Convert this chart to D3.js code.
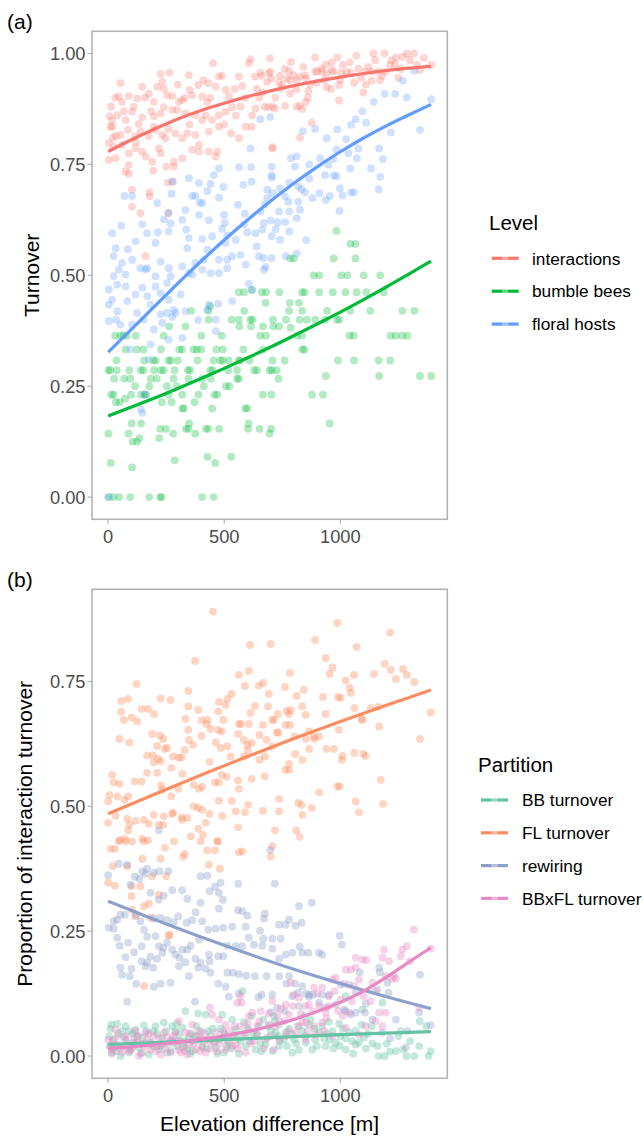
<!DOCTYPE html>
<html>
<head>
<meta charset="utf-8">
<script src="https://cdn.jsdelivr.net/npm/d3@7"></script>
<style>
  body { margin: 0; background: #fff; }
</style>
</head>
<body>
<div id="chart"></div>
<script>
// ---- panel (a): turnover vs elevation difference, [elevation m, turnover] ----
const interactionsPts = [
  [53,.933],[46,.903],[60,.891],[89,.904],[125,.899],[147,.925],[175,.909],[197,.891],[211,.925],[226,.954],[233,.936],[264,.957],[254,.906],[276,.904],[305,.891],[319,.895],[348,.951],[351,.918],[362,.906],[388,.929],[405,.903],[431,.933],[451,.978],[463,.925],[477,.948],[506,.918],[520,.903],[563,.948],[578,.927],[606,.978],[613,.987],[632,.948],[656,.957],[693,.955],[685,.936],[664,.912],
  [6,.859],[17,.835],[17,.85],[39,.861],[75,.85],[103,.869],[132,.841],[147,.856],[197,.858],[197,.835],[226,.865],[240,.879],[276,.873],[297,.873],[333,.865],[376,.861],[405,.85],[448,.85],[477,.861],[506,.869],[534,.879],[570,.88],[635,.876],[674,.88],[690,.879],[427,.891],
  [10,.835],[32,.814],[53,.816],[86,.828],[115,.813],[139,.824],[175,.814],[204,.828],[233,.816],[247,.809],[290,.82],[319,.809],[341,.82],[376,.816],[391,.794],[434,.824],[477,.835],[529,.82],[563,.809],[592,.835],[618,.835],
  [3,.798],[24,.79],[60,.794],[89,.775],[118,.786],[147,.779],[161,.768],[190,.756],[218,.786],[226,.775],[283,.756],[283,.745],[319,.764],[362,.783],[391,.779],[434,.779],[463,.768],[470,.779],
  [3,.76],[32,.764],[89,.749],[75,.734],[89,.729],[194,.736],[250,.745],[257,.709],[279,.711],[103,.693],[103,.655],[139,.64],[178,.687],[178,.678],[261,.64],[161,.543],[707,.786],
  [12,.88],[30,.9],[68,.87],[110,.88],[160,.9],[185,.87],[240,.92],[300,.93],[330,.9],[410,.94],[440,.9],[490,.95],[545,.92],[590,.9],[640,.92],[660,.95],[20,.81],[120,.8],[260,.83],[350,.84],[420,.86],[500,.84],[550,.86],[620,.86],[650,.9],
  [697,.989],[787,.981],[891,.991],[1069,.995],[1142,1],[1190,1],[1240,.991],[1269,.993],[1287,1],[1318,1],[987,.991],[963,.98],[938,.975],[920,.966],[963,.963],[761,.965],[769,.944],[797,.951],[826,.948],[848,.951],[891,.959],[920,.959],[941,.954],[970,.959],[1003,.957],[1027,.959],[1046,.957],[1078,.966],[1106,.959],[1135,.959],[1164,.959],[1193,.959],[1214,.974],[1236,.976],[1343,.963],[1391,.974],[1171,.94],[1135,.939],[1060,.934],[994,.929],[941,.924],[899,.934],[852,.944],[812,.94],[783,.94],[736,.934],[697,.959],[862,.915],[783,.91],[744,.921],[704,.944],[1099,.912],[994,.894],[852,.891],[762,.882],[826,.882],[836,.875],[718,.876],[708,.88],[812,.88],[877,.844],[826,.81],[707,.789],
  [720,.9],[750,.93],[780,.96],[810,.92],[840,.97],[870,.93],[900,.96],[930,.94],[960,.92],[1010,.975],[1040,.98],[1090,.945],[1120,.97],[1150,.985],[1180,.95],[1220,.985],[1260,.965],[1300,.985],[1330,.975],[1360,.99],[740,.95],[860,.9],[1000,.94],[1110,.93],[1250,.945]
];

const bumbleBeesPts = [
  [0,0],[23,0],[47,0],[95,0],[177,0],[224,0],[230,0],[405,0],[454,0],
  [11,.077],[103,.067],[287,.083],[428,.091],[461,.077],[530,.091],
  [1,.143],[88,.143],[105,.125],[124,.125],[135,.133],[102,.166],[142,.166],[220,.133],[224,.154],[249,.154],[280,.143],[335,.154],[346,.154],[349,.166],[375,.143],[421,.154],[432,.154],[478,.154],[602,.154],[605,.166],[652,.154],[695,.143],[702,.154],[954,.166],
  [590,.2],[600,.2],[448,.2],
  [33,.214],[50,.214],[73,.222],[13,.231],[24,.231],[99,.231],[141,.231],[157,.231],[164,.231],[231,.214],[260,.231],[274,.214],[320,.2],[325,.2],[319,.231],[372,.214],[389,.231],[458,.231],[470,.231],[667,.231],[703,.231],[878,.231],[925,.231],
  [116,.25],[177,.25],[253,.25],[296,.25],[412,.25],[507,.25],[522,.25],
  [26,.267],[69,.267],[95,.267],[184,.267],[210,.267],[282,.267],[346,.267],[405,.267],[442,.267],[555,.267],[563,.267],[734,.267],[937,.273],[1167,.273],[1343,.273],[1391,.273],
  [1,.286],[9,.286],[37,.286],[91,.286],[141,.286],[152,.286],[198,.286],[227,.286],[239,.286],[286,.286],[343,.286],[353,.286],[440,.286],[450,.286],[517,.286],[555,.286],[629,.286],[641,.286],[695,.286],[705,.286],[726,.286],
  [36,.308],[155,.308],[195,.308],[205,.308],[260,.308],[270,.308],[300,.308],[385,.308],[454,.308],[483,.308],[493,.308],[519,.308],[562,.308],[569,.308],[609,.308],[708,.308],[760,.308],[990,.308],[1059,.308],[1165,.308],[1214,.308],
  [75,.333],[124,.333],[152,.333],[228,.333],[306,.333],[318,.333],[368,.333],[382,.333],[401,.333],[466,.333],[494,.333],[582,.333],[667,.333],[836,.333],[845,.333],
  [30,.364],[52,.364],[66,.364],[80,.364],[119,.364],[239,.364],[401,.364],[489,.364],[655,.364],[680,.364],[813,.364],[835,.364],[1039,.364],[1057,.364],[1216,.364],[1238,.364],[1266,.364],[1289,.364],
  [263,.385],[333,.385],[565,.385],[615,.385],[667,.385],[711,.385],[736,.385],[786,.382],
  [432,.4],[532,.4],[563,.4],[612,.4],[622,.4],[710,.4],[766,.4],[825,.4],[856,.4],[892,.4],[935,.4],[986,.4],[996,.4],
  [358,.42],[432,.42],[586,.42],[779,.42],[836,.42],[943,.42],[1043,.42],[1129,.42],[1267,.42],[1319,.42],
  [678,.438],[782,.438],[822,.438],[440,.43],
  [562,.462],[586,.462],[662,.462],[680,.462],[737,.462],[835,.462],[846,.462],[909,.462],[967,.462],[1022,.462],[1070,.462],[1112,.462],[1187,.462],[619,.467],
  [885,.5],[909,.5],[1004,.5],[1030,.5],[1101,.5],[1172,.5],
  [784,.538],[799,.538],[971,.538],[1065,.538],
  [1043,.571],[1065,.571],[983,.6]
];

const floralHostsPts = [
  [613,.786],[563,.744],[616,.744],[477,.741],[455,.726],[348,.719],[441,.706],[496,.699],[582,.704],[618,.711],[391,.708],[276,.711],[362,.679],[376,.679],[405,.663],[477,.675],[427,.69],[685,.693],[685,.674],[674,.66],[70,.679],[103,.679],[211,.663],[273,.684],[394,.664],[259,.641],[240,.626],[269,.617],[319,.625],[333,.647],[499,.636],[589,.639],[559,.659],[657,.644],[664,.603],[147,.615],[585,.615],[391,.636],[434,.624],[17,.595],[57,.612],[168,.595],[214,.597],[261,.599],[336,.603],[348,.584],[405,.582],[448,.588],[513,.59],[491,.605],[503,.618],[549,.58],[599,.597],[635,.595],[670,.618],[700,.624],[32,.561],[85,.559],[118,.576],[204,.573],[341,.561],[427,.558],[506,.573],[534,.543],[570,.546],[639,.565],[670,.539],[24,.543],[60,.528],[103,.535],[139,.516],[168,.516],[226,.531],[261,.516],[319,.52],[376,.528],[412,.535],[477,.535],[513,.535],[513,.516],[592,.524],[649,.543],[678,.519],[24,.498],[46,.513],[75,.502],[161,.513],[204,.498],[269,.498],[362,.502],[405,.513],[441,.505],[671,.513],
  [348,.505],[477,.505],[3,.468],[39,.479],[75,.475],[147,.472],[204,.475],[254,.483],[3,.434],[17,.445],[39,.419],[82,.442],[118,.457],[168,.453],[182,.434],[226,.46],[261,.445],[312,.457],[290,.415],[3,.397],[34,.4],[53,.389],[103,.389],[125,.415],[154,.4],[197,.378],[233,.393],[254,.415],[283,.422],[226,.412],[319,.359],[261,.355],[182,.344],[96,.333],[434,.434],[474,.436],[427,.423],[534,.442],[606,.481],[463,.4],[463,.374],[388,.399],[276,.406],[333,.419],[147,.19],[175,.31],[157,.232],[141,.198],[5,0],[620,.467],
  [655,.852],[698,.857],[705,.72],
  [1391,.897],[1343,.828],[1318,.961],[1269,.939],[1286,.901],[1236,.909],[1191,.909],[1217,.822],[1144,.891],[1167,.786],[1183,.762],[1132,.741],[1172,.722],[1165,.694],[1095,.87],[1111,.844],[1066,.852],[1046,.839],[1078,.786],[987,.829],[891,.83],[838,.825],[941,.809],[1025,.807],[1034,.775],[984,.783],[970,.762],[913,.764],[948,.749],[866,.75],[812,.768],[787,.764],[805,.745],[704,.745],[704,.725],[1071,.764],[1042,.741],[984,.723],[972,.725],[934,.726],[866,.718],[998,.696],[1009,.68],[1059,.687],[1046,.687],[955,.679],[910,.685],[880,.674],[848,.687],[819,.7],[780,.709],[740,.696],[762,.678],[708,.685],[776,.666],[780,.644],[736,.644],[819,.666],[833,.694],[937,.67],[996,.645],[730,.619],[762,.62],[721,.604],[826,.648],[812,.629],[780,.599],[704,.588],[741,.58],[853,.579],[812,.549],[765,.543],[704,.539]
];

// fitted curves
const interactionsFit = [[0,.779],[100,.806],[200,.83],[300,.853],[400,.872],[500,.888],[600,.903],[700,.916],[800,.928],[900,.938],[1000,.947],[1100,.955],[1200,.962],[1300,.967],[1390,.971]];
const bumbleBeesFit = [[0,.183],[100,.203],[200,.223],[300,.245],[400,.267],[500,.29],[600,.314],[700,.338],[800,.364],[900,.39],[1000,.417],[1100,.445],[1200,.474],[1300,.504],[1390,.532]];
const floralHostsFit = [[0,.327],[100,.378],[200,.43],[300,.482],[400,.532],[500,.58],[600,.625],[700,.668],[800,.708],[900,.745],[1000,.779],[1100,.81],[1200,.838],[1300,.863],[1390,.885]];

// ---- panel (b): proportion of interaction turnover ----
const bbTurnoverPts = [
  [14,.063],[10,.055],[39,.065],[75,.06],[118,.053],[154,.062],[204,.06],[240,.067],[276,.06],[319,.057],[333,.09],[388,.085],[420,.083],[431,.05],[491,.083],[534,.073],[578,.13],[585,.068],[618,.08],[649,.06],[668,.073],[714,.08],[736,.063],[764,.047],[800,.033],[836,.05],[865,.063],[891,.033],[908,.047],[937,.02],[954,.033],[980,.027],[997,.021],[1023,.013],[1066,.023],[1080,.027],[1102,.037],[1135,.06],[1164,0],[1190,0],[1214,.009],[1239,.01],[1270,.013],[1285,0],[1318,0],[1342,.07],[1389,.01],[1023,.035],[1037,.048],[994,.065],[951,.068],[1066,.051],[1092,.063],[1138,.025],[1181,.107],[1095,.093],[1023,.12],[966,.05],[922,.06],[879,.013],[822,.012],[851,.027],[793,.007],[736,.02],[707,.01],[678,.023],[635,.013],[592,.02],[563,.005],[520,.027],[499,.007],[463,.017],[405,.017],[362,.01],[326,.017],[297,.02],[254,.007],[218,.013],[175,.003],[132,.017],[89,.007],[53,0],[17,.007],[6,.02],[24,.033],[68,.037],[111,.027],[147,.037],[182,.027],[233,.037],[276,.033],[305,.043],[348,.037],[391,.033],[441,.04],[477,.033],[513,.04],[549,.053],[592,.04],[642,.043],[685,.037],[721,.047],[757,.033],[793,.043],[822,.06],[872,.073],[718,.07],
  [30,.02],[45,.045],[90,.05],[100,.015],[125,.04],[165,.05],[190,.02],[210,.045],[260,.025],[290,.05],[310,.03],[340,.015],[360,.045],[380,.06],[410,.03],[450,.055],[470,.005],[500,.045],[530,.015],[560,.035],[610,.03],[660,.01],[700,.05],[740,.03],[780,.055],[850,.04],[900,.02],[940,.045],[1000,.04],[1050,.03],[1120,.045],[1160,.02],[1250,.04],[1300,.03],[1370,.06],[1380,0],
  [5,.04],[35,.01],[60,.05],[85,.025],[105,.045],[140,.005],[160,.025],[195,.05],[225,.02],[250,.05],[270,.01],[295,.065],[330,.03],[355,.005],[375,.04],[400,.05],[425,.015],[455,.03],[485,.055],[510,.02],[540,.04],[570,.03],[600,.055],[625,.045],[655,.025],[690,.06],[730,.04],[770,.02],[810,.025],[845,.08],[890,.055],[930,.035],[970,.015],[1010,.055],[1055,.005],[1110,.015],[1200,.025],[1260,.05],[1340,.02]
];

const flTurnoverPts = [
  [451,.89],[987,.867],[1214,.848],[611,.823],[700,.825],[891,.833],[1070,.819],[374,.791],[937,.797],[966,.778],[954,.765],[1191,.785],[1217,.773],[1270,.775],[1286,.763],[1318,.749],[1239,.755],[1145,.765],[1059,.763],[1023,.752],[1040,.737],[1045,.727],[563,.763],[606,.771],[589,.741],[649,.742],[668,.747],[692,.725],[761,.739],[783,.767],[842,.733],[811,.721],[122,.745],[57,.711],[86,.715],[226,.716],[269,.713],[345,.731],[388,.693],[477,.709],[513,.715],[532,.725],[506,.703],[474,.69],[496,.673],[613,.687],[632,.701],[688,.7],[714,.673],[779,.685],[786,.693],[836,.7],[851,.683],[925,.719],[990,.719],[1001,.717],[1060,.697],[1131,.697],[1164,.699],[937,.685],[1092,.675],[1389,.688],
  [55,.689],[68,.673],[101,.678],[125,.67],[144,.695],[172,.695],[197,.685],[345,.7],[427,.673],[333,.675],[402,.672],[424,.665],[441,.655],[474,.653],[563,.665],[573,.665],[606,.665],[667,.663],[707,.673],[731,.685],[764,.663],[783,.663],[726,.648],[769,.691],[865,.65],[889,.635],[908,.64],[994,.653],[1095,.673],[1167,.66],[1343,.635],
  [49,.635],[92,.628],[190,.645],[223,.642],[237,.635],[211,.621],[254,.617],[244,.615],[345,.653],[366,.623],[348,.633],[402,.641],[463,.628],[489,.65],[513,.62],[484,.617],[560,.645],[585,.633],[599,.623],[618,.627],[652,.643],[682,.633],[707,.62],[733,.648],[803,.64],[851,.635],[865,.615],[885,.64],[940,.615],[972,.615],
  [168,.602],[193,.602],[216,.595],[280,.6],[305,.598],[316,.598],[330,.613],[272,.577],[319,.565],[211,.567],[168,.567],[226,.59],[197,.588],[437,.589],[489,.563],[510,.559],[527,.6],[585,.6],[602,.612],[652,.593],[675,.6],[674,.56],[763,.573],[779,.573],[779,.585],[836,.593],[805,.605],[1006,.593],[1009,.601],[1060,.607],[1099,.605],[1109,.601],[1174,.553],[987,.54],[997,.54],[908,.528],
  [17,.563],[24,.548],[49,.545],[6,.523],[39,.52],[70,.513],[86,.52],[115,.55],[144,.55],[0,.51],[0,.467],[32,.481],[82,.475],[118,.471],[154,.473],[197,.483],[240,.48],[276,.485],[316,.478],[341,.477],[228,.542],[233,.533],[272,.52],[302,.535],[369,.543],[391,.535],[405,.539],[369,.5],[388,.497],[405,.493],[437,.485],[460,.548],[477,.548],[477,.511],[532,.511],[559,.552],[563,.535],[618,.555],[603,.503],[549,.49],[589,.488],[667,.491],[736,.515],[736,.49],[819,.507],[833,.503],[836,.483],[877,.497],[1066,.51],[1080,.488],[1184,.505],
  [175,.465],[237,.463],[218,.463],[280,.487],[319,.473],[388,.455],[408,.443],[420,.467],[491,.481],[560,.458],[718,.452],[810,.452],[825,.439],[86,.452],[92,.463],[50,.433],[72,.435],[103,.43],[147,.435],[172,.432],[356,.44],[398,.43],[470,.43],[707,.42],
  [10,.415],[29,.415],[46,.43],[75,.43],[154,.43],[244,.417],[283,.43],[330,.405],[322,.399],[427,.412],[460,.412],[472,.43],[563,.408],[578,.41],[700,.4],[20,.38],[147,.395],[226,.395],[434,.383],[481,.375],[82,.38],[190,.36],[250,.36],[0,.347],[29,.341],[101,.32],[139,.34],[101,.34],[175,.305],[154,.3],[103,.293],[218,.323],[266,.243],[155,.14],[118,.28],[182,.277],[260,.241]
];

const rewiringPts = [
  [46,.385],[0,.362],[82,.383],[115,.359],[147,.37],[168,.375],[197,.367],[221,.37],[259,.37],[161,.365],[96,.343],[135,.355],[182,.327],[218,.313],[240,.321],[276,.332],[319,.332],[341,.315],[398,.36],[427,.361],[437,.33],[460,.339],[477,.327],[484,.347],[494,.313],[560,.345],[718,.345],[877,.307],[398,.307],[376,.288],[477,.295],[559,.292],[578,.29],[599,.281],[675,.285],[671,.275],[779,.273],[822,.3],[833,.267],[807,.261],[736,.263],[764,.263],[654,.251],
  [3,.257],[24,.255],[24,.27],[39,.273],[53,.283],[72,.283],[118,.283],[139,.27],[154,.253],[197,.275],[226,.277],[254,.272],[283,.268],[302,.28],[338,.267],[362,.272],[405,.27],[431,.253],[463,.255],[496,.257],[534,.259],[592,.259],[606,.237],[668,.235],[707,.235],[743,.235],[997,.241],[1006,.223],
  [39,.237],[50,.221],[86,.227],[111,.208],[144,.22],[168,.239],[204,.24],[218,.22],[237,.217],[254,.227],[276,.213],[319,.213],[341,.213],[355,.221],[391,.233],[434,.203],[474,.2],[496,.2],[513,.221],[549,.22],[578,.22],[628,.223],[664,.221],[707,.215],[736,.195],[764,.203],[793,.207],[825,.219],[836,.207],[862,.207],[908,.207],[922,.203],
  [75,.198],[144,.19],[168,.187],[182,.199],[211,.195],[233,.207],[290,.203],[307,.197],[333,.188],[376,.195],[398,.187],[437,.19],[53,.177],[101,.175],[60,.163],[93,.16],[121,.145],[161,.18],[194,.177],[197,.139],[226,.145],[269,.147],[305,.18],[348,.16],[388,.177],[420,.175],[441,.167],[474,.145],[506,.139],[513,.167],[537,.167],[563,.164],[595,.161],[632,.16],[682,.16],[737,.16],[767,.145],[779,.16],[805,.145],[836,.14],[865,.123],[882,.123],[922,.123],[951,.123],[1001,.143],[1037,.143],[1066,.127],[1083,.168],[1167,.177],[1170,.168],[1159,.133],[1203,.147],[1207,.127],[1343,.163],[1239,.073],[1389,.062],[1214,.035],[1282,.017],[1109,.105],
  [82,.109],[374,.109],[520,.119],[563,.125],[647,.118],[661,.123],[707,.123],[793,.12],[818,.127],[851,.125],[865,.119],[908,.107],[937,.097],[980,.103],[1023,.09],[1066,.087],[1138,.073],[1181,.047],[1289,.05],[1339,.087],[700,.088],[822,.1],[728,.097],[761,.09],[1016,.093],[1045,.083],[1106,.087],[218,.452],[698,.413]
];

const bbxflTurnoverPts = [
  [0,.033],[17,.013],[39,.023],[75,.033],[103,.017],[125,.027],[147,.007],[168,.033],[211,.02],[226,.003],[254,.037],[283,.027],[305,.07],[312,.007],[348,.023],[362,.063],[391,.05],[405,.02],[438,.097],[448,.083],[477,.073],[491,.037],[506,.063],[534,.02],[556,.107],[575,.107],[570,.12],[606,.053],[606,.08],[621,.087],[657,.09],[707,.11],[728,.083],[764,.103],[786,.147],[800,.123],[822,.117],[836,.068],[865,.103],[887,.137],[922,.137],[966,.153],[980,.157],[1016,.145],[1023,.173],[1045,.173],[1066,.177],[1080,.153],[1066,.197],[1095,.193],[1112,.192],[1138,.147],[1181,.197],[1188,.213],[1195,.16],[1224,.155],[1239,.155],[1267,.213],[1286,.22],[1316,.253],[1389,.215],[1339,.097],[1195,.087],[1167,.087],[1037,.087],[937,.087],[951,.1],[1001,.113],[922,.067],[887,.06],[851,.067],[815,.06],[779,.083],[736,.07],[693,.063],[642,.06],[570,.06],[534,.04],[463,.047],[427,.033],[384,.04],[333,.047],[290,.047],[240,.047],[197,.04],[161,.047],[118,.05],[75,.04],[32,.053],[10,.02],[60,.007],[89,.013],[132,0],[182,.013],[233,.023],[269,.007],[305,.013],[341,.003],[376,.013],[420,.007],[457,.027],[506,.013],[549,.023],[592,.007],[628,.03],[678,.033],[714,.013],[736,.033],[764,.04],[807,.047],[851,.033],[894,.043],[930,.05],[966,.04],[1023,.057],[1080,.043],[1109,.06],[1152,.07],[1181,.06],
  [1300,.19],[1260,.2],[1230,.16],[1150,.13],[1100,.12],[1050,.11],[990,.09],[950,.12],[910,.1],[880,.09],[850,.1],[760,.07],[690,.085],[650,.07],[600,.065],[20,.03],[50,.015],[110,.035],[140,.025],[190,.025],[220,.035],[270,.03],[320,.025],[360,.03],[400,.035],[440,.015],[480,.025],[520,.05],
  [15,.005],[40,.04],[65,.02],[95,.01],[130,.04],[155,.02],[175,.045],[205,.01],[245,.015],[280,.04],[300,.03],[330,.01],[350,.045],[370,.025],[395,.01],[415,.045],[435,.03],[470,.01],[495,.05],[515,.03],[545,.06],[560,.015],[585,.045],[615,.025],[640,.045],[670,.015],[700,.04],[720,.06],[745,.095],[775,.05],[795,.1],[830,.085],[860,.05],[900,.125],[940,.075],[975,.13],[1010,.08],[1060,.14],[1130,.11],[1210,.19]
];

const bbTurnoverFit = [[0,.023],[200,.027],[400,.031],[600,.035],[800,.039],[1000,.043],[1200,.046],[1390,.049]];
const flTurnoverFit = [[0,.485],[200,.524],[400,.563],[600,.6],[800,.636],[1000,.67],[1200,.703],[1390,.733]];
const rewiringFit = [[0,.31],[200,.273],[400,.238],[600,.205],[800,.173],[1000,.145],[1200,.118],[1390,.095]];
const bbxflTurnoverFit = [[0,.015],[200,.022],[400,.033],[500,.04],[600,.049],[700,.06],[800,.073],[900,.089],[1000,.107],[1100,.129],[1200,.158],[1300,.19],[1390,.217]];

const xTicks = [0, 500, 1000];
const yTicksA = [0, 0.25, 0.5, 0.75, 1.0];
const yTicksB = [0, 0.25, 0.5, 0.75];

const FONT = "'Liberation Sans', Arial, Helvetica, sans-serif";
const W = 644, H = 1136;

const svg = d3.select('#chart').append('svg')
  .attr('width', W)
  .attr('height', H)
  .style('font-family', FONT);

svg.append('rect').attr('width', W).attr('height', H).attr('fill', '#fff');

// shared x extent of the two panels (ggplot adds 5% on each side)
const left = 92, right = 447.3;
const x = d3.scaleLinear().domain([-69.5, 1460.5]).range([left, right]);

function drawPanel(p) {
  const y = d3.scaleLinear().domain(p.yDomain).range([p.bottom, p.top]);
  const g = svg.append('g');

  // points first, fitted lines on top
  p.series.forEach(s => {
    g.append('g').selectAll('circle')
      .data(s.pts)
      .enter().append('circle')
      .attr('cx', d => x(d[0]))
      .attr('cy', d => y(d[1]))
      .attr('r', 3.9)
      .attr('fill', s.color)
      .attr('fill-opacity', p.alpha);
  });

  const line = d3.line().x(d => x(d[0])).y(d => y(d[1])).curve(d3.curveBasis);
  p.series.forEach(s => {
    g.append('path')
      .attr('d', line(s.fit))
      .attr('fill', 'none')
      .attr('stroke', s.color)
      .attr('stroke-width', 3.2);
  });

  // panel border
  g.append('rect')
    .attr('x', left).attr('y', p.top)
    .attr('width', right - left).attr('height', p.bottom - p.top)
    .attr('fill', 'none')
    .attr('stroke', '#b3b3b3')
    .attr('stroke-width', 1.6);

  // y ticks
  p.yTicks.forEach(t => {
    g.append('line')
      .attr('x1', left - 4.5).attr('x2', left)
      .attr('y1', y(t)).attr('y2', y(t))
      .attr('stroke', '#b3b3b3').attr('stroke-width', 1.2);
    g.append('text')
      .attr('x', left - 6.5).attr('y', y(t)).attr('dy', '0.36em')
      .attr('text-anchor', 'end')
      .attr('font-size', 18.3).attr('fill', '#4d4d4d')
      .text(d3.format('.2f')(t));
  });

  // x ticks
  xTicks.forEach(t => {
    g.append('line')
      .attr('x1', x(t)).attr('x2', x(t))
      .attr('y1', p.bottom).attr('y2', p.bottom + 4.5)
      .attr('stroke', '#b3b3b3').attr('stroke-width', 1.2);
    g.append('text')
      .attr('x', x(t)).attr('y', p.xLabelY)
      .attr('text-anchor', 'middle')
      .attr('font-size', 18.3).attr('fill', '#4d4d4d')
      .text(t);
  });

  // y axis title
  g.append('text')
    .attr('transform', `translate(${p.yTitleX},${(p.top + p.bottom) / 2}) rotate(-90)`)
    .attr('text-anchor', 'middle')
    .attr('font-size', 21).attr('fill', '#000')
    .text(p.yTitle);

  // panel tag
  g.append('text')
    .attr('x', 7).attr('y', p.tagY)
    .attr('font-size', 21).attr('fill', '#000')
    .text(p.tag);

  // legend
  const lg = p.legend;
  g.append('text')
    .attr('x', lg.titleX).attr('y', lg.titleY)
    .attr('font-size', 20.5).attr('fill', '#000')
    .text(lg.title);
  p.series.forEach((s, i) => {
    const ky = lg.y0 + i * lg.step;
    g.append('line')
      .attr('x1', lg.keyX).attr('x2', lg.keyX + 27)
      .attr('y1', ky).attr('y2', ky)
      .attr('stroke', s.color).attr('stroke-width', 3.2);
    g.append('circle')
      .attr('cx', lg.keyX + 13.5).attr('cy', ky).attr('r', 3.2)
      .attr('fill', '#fff').attr('fill-opacity', 0.35);
    g.append('text')
      .attr('x', lg.labelX).attr('y', ky).attr('dy', '0.36em')
      .attr('font-size', 17.3).attr('fill', '#000')
      .text(s.name);
  });
}

drawPanel({
  top: 31.3, bottom: 519.3,
  yDomain: [-0.05, 1.05],
  yTicks: yTicksA,
  alpha: 0.3,
  xLabelY: 542.7,
  yTitle: 'Turnover', yTitleX: 39,
  tag: '(a)', tagY: 29,
  series: [
    { name: 'interactions', color: '#F8766D', pts: interactionsPts, fit: interactionsFit },
    { name: 'bumble bees', color: '#00BA38', pts: bumbleBeesPts, fit: bumbleBeesFit },
    { name: 'floral hosts', color: '#619CFF', pts: floralHostsPts, fit: floralHostsFit }
  ],
  legend: { title: 'Level', titleX: 489, titleY: 230, keyX: 491.7, labelX: 532, y0: 258.3, step: 32.9 }
});

drawPanel({
  top: 589.3, bottom: 1078.3,
  yDomain: [-0.0445, 0.9345],
  yTicks: yTicksB,
  alpha: 0.38,
  xLabelY: 1101.7,
  yTitle: 'Proportion of interaction turnover', yTitleX: 32,
  tag: '(b)', tagY: 587,
  series: [
    { name: 'BB turnover', color: '#66C2A5', pts: bbTurnoverPts, fit: bbTurnoverFit },
    { name: 'FL turnover', color: '#FC8D62', pts: flTurnoverPts, fit: flTurnoverFit },
    { name: 'rewiring', color: '#8DA0CB', pts: rewiringPts, fit: rewiringFit },
    { name: 'BBxFL turnover', color: '#E78AC3', pts: bbxflTurnoverPts, fit: bbxflTurnoverFit }
  ],
  legend: { title: 'Partition', titleX: 478, titleY: 772, keyX: 481, labelX: 522, y0: 800, step: 32.8 }
});

// shared x axis title
svg.append('text')
  .attr('x', (left + right) / 2).attr('y', 1131)
  .attr('text-anchor', 'middle')
  .attr('font-size', 21).attr('fill', '#000')
  .text('Elevation difference [m]');
</script>
</body>
</html>
